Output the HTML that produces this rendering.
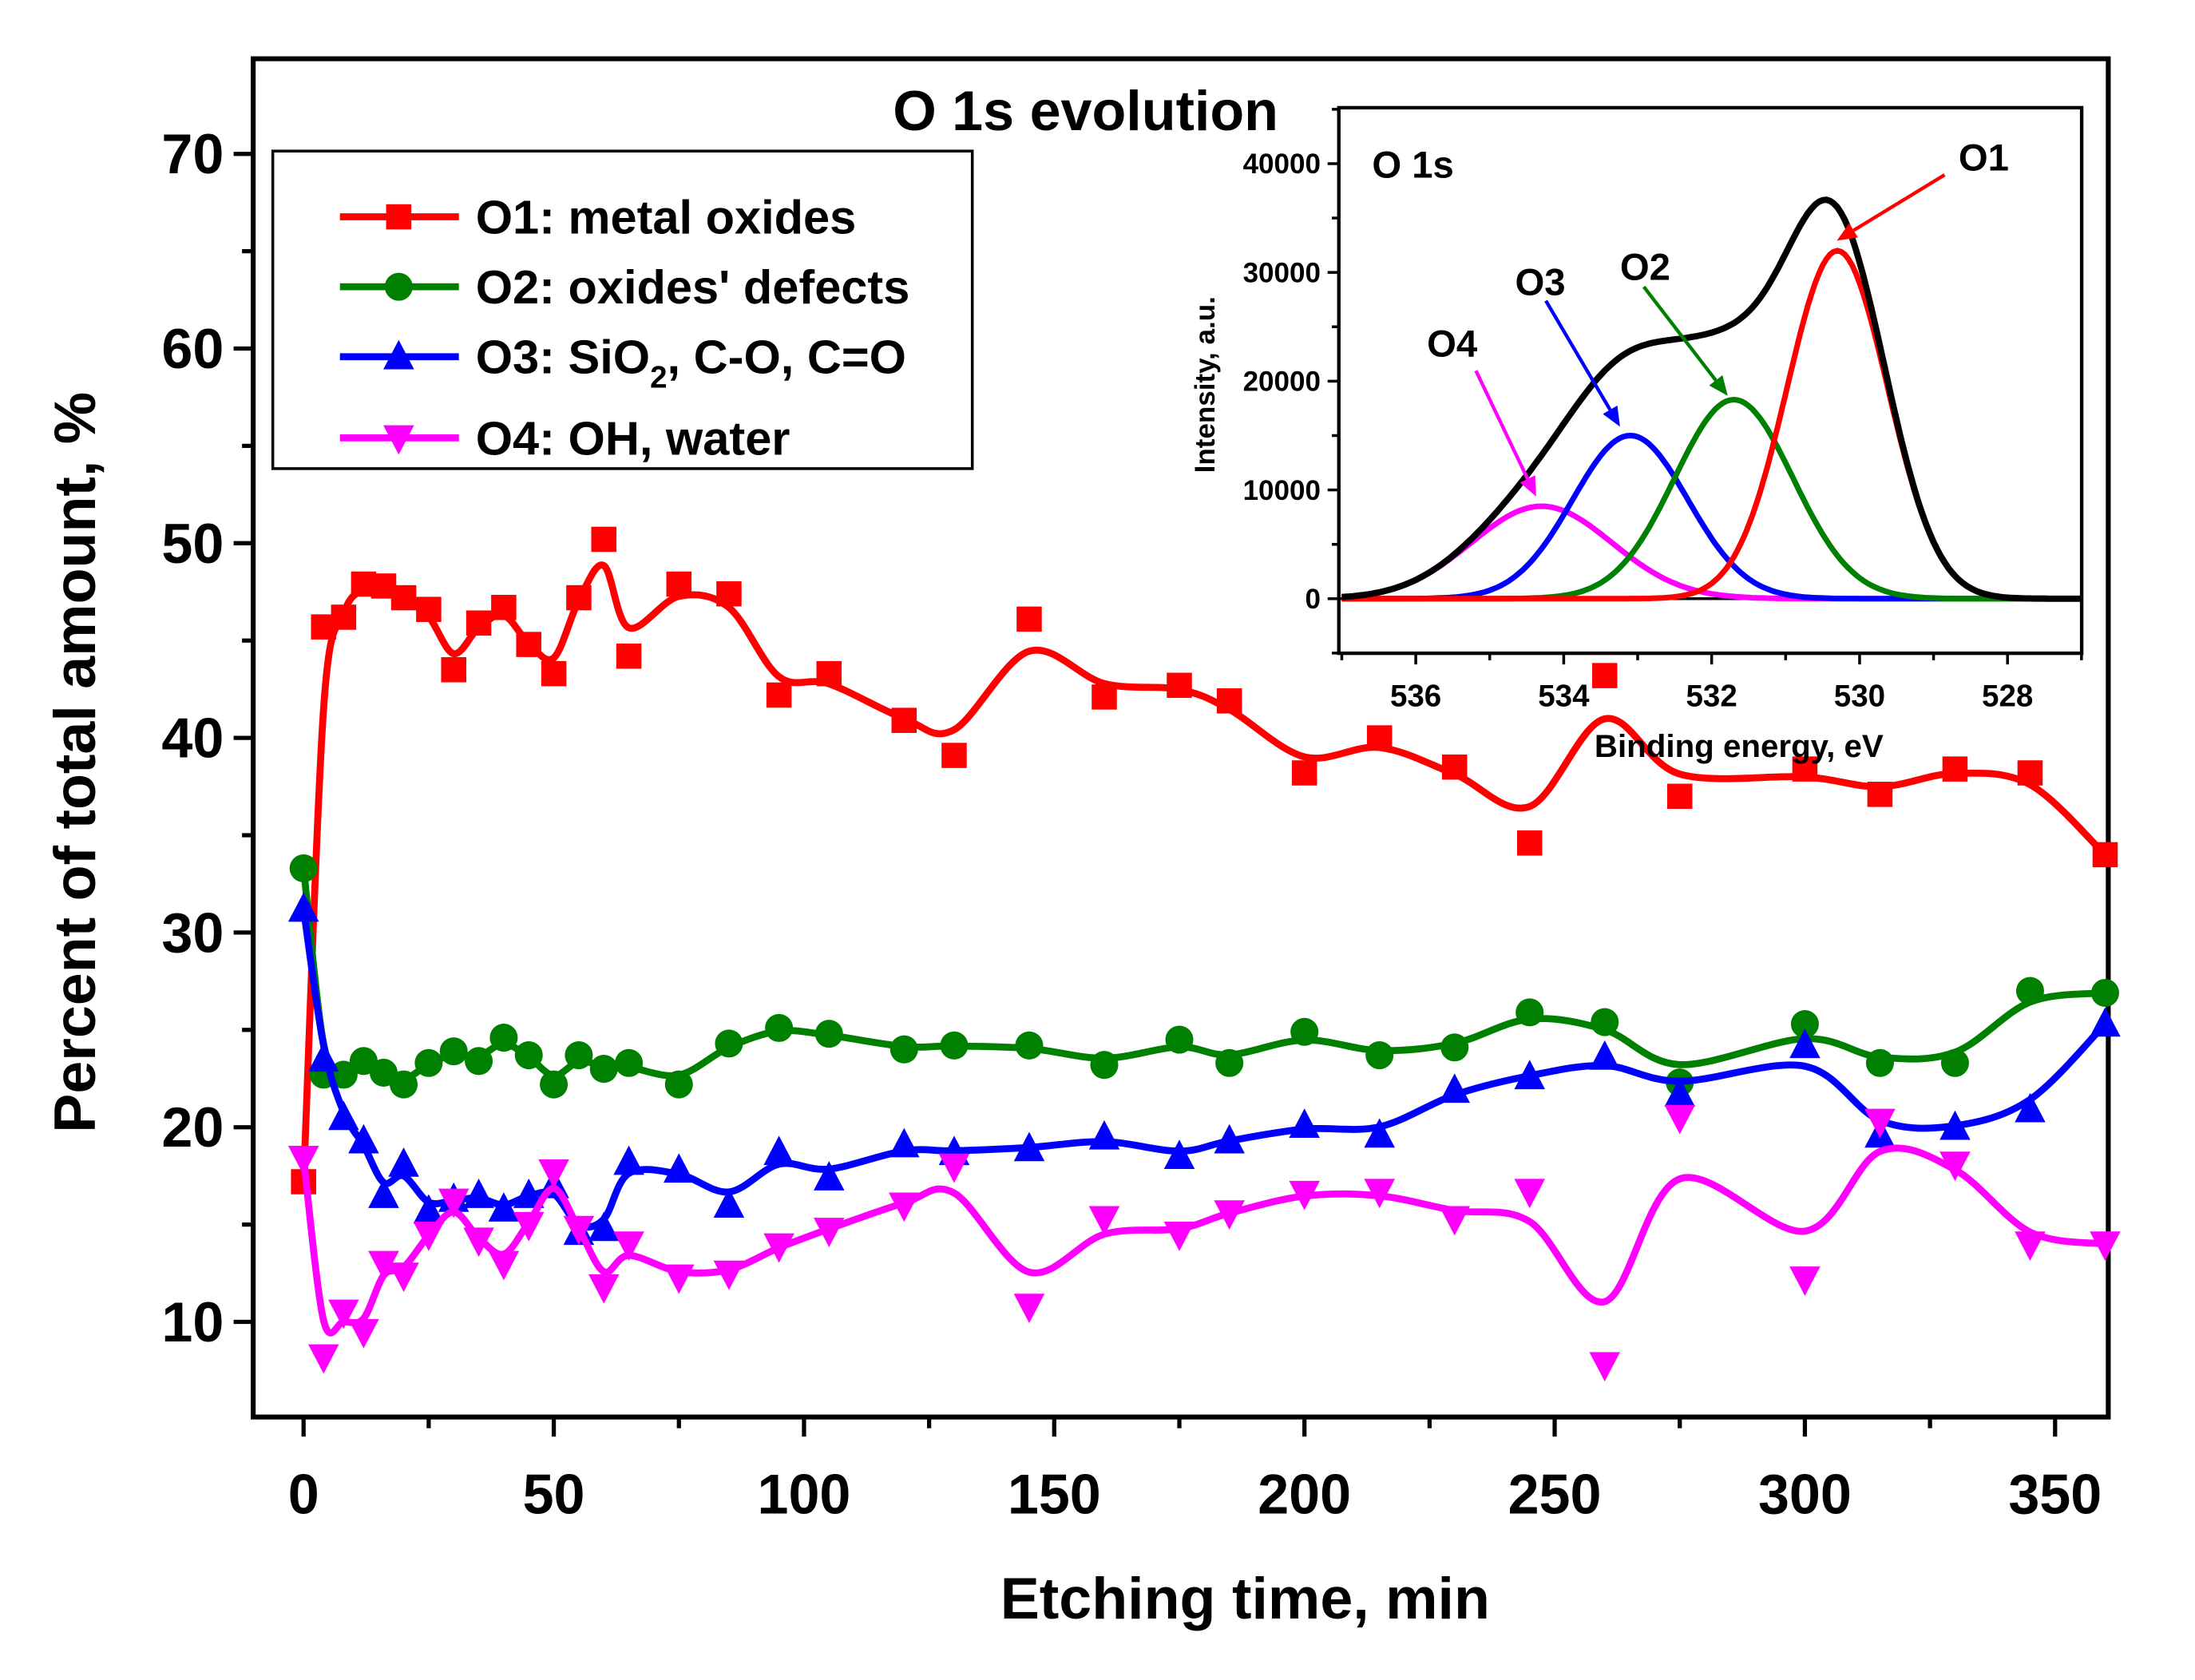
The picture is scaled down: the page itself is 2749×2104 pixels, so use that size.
<!DOCTYPE html>
<html><head><meta charset="utf-8"><style>
html,body{margin:0;padding:0;background:#fff;}
svg{display:block;}
text{font-family:"Liberation Sans Narrow","Liberation Sans",sans-serif;font-weight:bold;}
</style></head><body>
<svg id="chart" width="2749" height="2104" viewBox="0 0 1569 1201" preserveAspectRatio="none" xmlns="http://www.w3.org/2000/svg">
<rect width="1569" height="1201" fill="#fff"/>
<g id="main"></g>
<g id="inset"></g>
</svg>
<script>
const times=[0,4,8,12,16,20,25,30,35,40,45,50,55,60,65,75,85,95,105,120,130,145,160,175,185,200,215,230,245,260,275,300,315,330,345,360];
const o1=[17.2,45.7,46.2,47.9,47.8,47.2,46.6,43.5,45.9,46.7,44.8,43.3,47.2,50.2,44.2,47.9,47.4,42.2,43.3,40.9,39.1,46.1,42.1,42.7,41.9,38.2,40,38.5,34.6,43.2,37,38.4,37.1,38.4,38.2,34];
const o2=[33.3,22.7,22.7,23.4,22.8,22.2,23.3,23.9,23.4,24.6,23.7,22.2,23.7,23,23.3,22.2,24.3,25.1,24.8,24,24.2,24.2,23.2,24.5,23.3,24.9,23.7,24.1,25.9,25.4,22.3,25.3,23.3,23.3,27,26.9];
const o3=[31.2,23.5,20.5,19.3,16.5,18.1,15.7,16.3,16.5,15.8,16.5,17,14.6,14.8,18.2,17.8,16,18.7,17.4,19.1,18.7,18.9,19.5,18.5,19.3,20.1,19.6,21.9,22.6,23.6,21.7,24.2,19.6,20,20.9,25.3];
const o4=[18.4,8.2,10.5,9.5,13,12.4,14.5,16.2,14.2,13,15,17.7,14.8,11.8,14,12.3,12.5,13.9,14.7,16,18,10.8,15.3,14.5,15.6,16.6,16.7,15.3,16.7,7.8,20.5,12.2,20.3,18.1,14,14];
const xTicks=[0,50,100,150,200,250,300,350];
const yTicks=[10,20,30,40,50,60,70];
const seriesNames=["O1: metal oxides","O2: oxides' defects","O3: SiO2, C-O, C=O","O4: OH, water"];
const insetYTicks=[0,10000,20000,30000,40000];
const insetXTicks=[536,534,532,530,528];
const peakCenters=[530.3,531.7,533.1,534.3];
const peakAmps=[32000,18300,15000,8500];
const peakSigmas=[0.68,0.8,0.78,0.95];

const NS="http://www.w3.org/2000/svg";
function mk(tag,attrs,parent,txt){const e=document.createElementNS(NS,tag);for(const k in attrs)e.setAttribute(k,attrs[k]);if(txt!==undefined)e.textContent=txt;parent.appendChild(e);return e;}
const X=t=>217+t*(1469-217)/350;
const Y=v=>945-(v-10)*(945-110)/60;
const main=document.getElementById('main');

let el;
el=mk('rect',{x:181,y:42,width:1326,height:971,fill:'none',stroke:'#000','stroke-width':3.5},main);


for(let t=0;t<=350;t+=25){
  const maj=t%50===0;
  el=mk('line',{x1:X(t),x2:X(t),y1:1013,y2:1013+(maj?14:8),stroke:'#000','stroke-width':3},main);
  
  
}
xTicks.forEach(t=>{
  el=mk('text',{x:X(t),y:1082,'text-anchor':'middle','font-size':40},main,String(t));
  
  
});
for(let v=10;v<=70;v+=5){
  const maj=v%10===0;
  el=mk('line',{x1:181,x2:181-(maj?14:8),y1:Y(v),y2:Y(v),stroke:'#000','stroke-width':3},main);
  
  
}
yTicks.forEach(v=>{
  el=mk('text',{x:160,y:Y(v)+14,'text-anchor':'end','font-size':40},main,String(v));
  
  
});
el=mk('text',{x:890,y:1157,'text-anchor':'middle','font-size':42},main,'Etching time, min');


el=mk('text',{x:0,y:0,'text-anchor':'middle','font-size':42,transform:'translate(68,545) rotate(-90)',style:'font-family:"Liberation Sans",sans-serif'},main,'Percent of total amount, %');


el=mk('text',{x:776,y:93,'text-anchor':'middle','font-size':40,style:'font-family:"Liberation Sans",sans-serif'},main,'O 1s evolution');



function smoothPath(xs,ys){
  const s=ys.map((v,i)=>{if(i===0||i===ys.length-1)return v;return 0.15*ys[i-1]+0.7*v+0.15*ys[i+1];});
  const p=xs.map((t,i)=>[X(t),Y(s[i])]);
  let d='M'+p[0][0]+','+p[0][1];
  for(let i=0;i<p.length-1;i++){
    const p0=p[i-1]||p[i],p1=p[i],p2=p[i+1],p3=p[i+2]||p[i+1];
    const c1=[p1[0]+(p2[0]-p0[0])/6,p1[1]+(p2[1]-p0[1])/6];
    const c2=[p2[0]-(p3[0]-p1[0])/6,p2[1]-(p3[1]-p1[1])/6];
    d+=' C'+c1+' '+c2+' '+p2;
  }
  return d;
}
function marker(kind,x,y,color,parent){
  if(kind==='sq') return mk('rect',{x:x-9,y:y-9,width:18,height:18,fill:color},parent);
  if(kind==='ci') return mk('circle',{cx:x,cy:y,r:10,fill:color},parent);
  if(kind==='up') return mk('polygon',{points:`${x},${y-12} ${x-11},${y+9} ${x+11},${y+9}`,fill:color},parent);
  return mk('polygon',{points:`${x},${y+12} ${x-11},${y-9} ${x+11},${y-9}`,fill:color},parent);
}
const series=[[o1,'#ff0000','sq','o1'],[o2,'#008000','ci','o2'],[o3,'#0000ff','up','o3'],[o4,'#ff00ff','dn','o4']];
series.forEach(([vals,col,mkr,nm])=>{
  const g=mk('g',{},main);
  
  
  el=mk('path',{d:smoothPath(times,vals),fill:'none',stroke:col,'stroke-width':5},g);
  
  
  vals.forEach((v,i)=>{
    el=marker(mkr,X(times[i]),Y(v),col,g);
    
    
  });
});

const lg=mk('g',{},main);


el=mk('rect',{x:195,y:108,width:500,height:227,fill:'#fff',stroke:'#000','stroke-width':2},lg);


const ly=[155,205,255,313];
series.forEach(([vals,col,mkr,nm],i)=>{
  el=mk('line',{x1:243,x2:328,y1:ly[i],y2:ly[i],stroke:col,'stroke-width':5},lg);
  
  
  el=marker(mkr,285,ly[i],col,lg);
  
  
  let t;
  if(i===2){
    t=mk('text',{x:340,y:ly[i]+12,'font-size':34,style:'font-family:"Liberation Sans",sans-serif'},lg);
    mk('tspan',{},t,'O3: SiO');
    mk('tspan',{dy:10,'font-size':22},t,'2');
    mk('tspan',{dy:-10},t,', C-O, C=O');
  } else t=mk('text',{x:340,y:ly[i]+12,'font-size':34,style:'font-family:"Liberation Sans",sans-serif'},lg,seriesNames[i]);
  
  
});

const ins=document.getElementById('inset');


const IX=e=>1012+(536-e)*(1435-1012)/8;
const IY=v=>428-v*(428-117)/40000;
el=mk('rect',{x:957,y:77,width:531,height:390,fill:'none',stroke:'#000','stroke-width':2.5},ins);


for(let e=537;e>=527;e-=1){
  const maj=e%2===0;
  el=mk('line',{x1:IX(e),x2:IX(e),y1:467,y2:467+(maj?8:5),stroke:'#000','stroke-width':2},ins);
  
  
}
insetXTicks.forEach(e=>{
  el=mk('text',{x:IX(e),y:505,'text-anchor':'middle','font-size':22},ins,String(e));
  
  
});
for(let v=-5000;v<=45000;v+=5000){
  const maj=v%10000===0;
  el=mk('line',{x1:957,x2:957-(maj?8:5),y1:IY(v),y2:IY(v),stroke:'#000','stroke-width':2},ins);
  
  
}
insetYTicks.forEach(v=>{
  el=mk('text',{x:944,y:IY(v)+7,'text-anchor':'end','font-size':20},ins,String(v));
  
  
});
el=mk('text',{x:0,y:0,'text-anchor':'middle','font-size':20,transform:'translate(868,275) rotate(-90)',style:'font-family:"Liberation Sans",sans-serif'},ins,'Intensity, a.u.');


el=mk('text',{x:1243,y:541,'text-anchor':'middle','font-size':23,style:'font-family:"Liberation Sans",sans-serif'},ins,'Binding energy, eV');


el=mk('line',{x1:957,x2:1488,y1:IY(0),y2:IY(0),stroke:'#000','stroke-width':2},ins);


const gauss=(e,k)=>peakAmps[k]*Math.exp(-((e-peakCenters[k])**2)/(2*peakSigmas[k]**2));
const pcol=['#ff0000','#008000','#0000ff','#ff00ff'];
const pname=['o1','o2','o3','o4'];
[3,2,1,0].forEach(k=>{
  let d='';
  for(let e=537;e>=527;e-=0.05){d+=(d?' L':'M')+IX(e).toFixed(1)+','+IY(gauss(e,k)).toFixed(1);}
  el=mk('path',{d:d,fill:'none',stroke:pcol[k],'stroke-width':4},ins);
  
  
});
let de='';
for(let e=537;e>=527;e-=0.05){let s=0;for(let k=0;k<4;k++)s+=gauss(e,k);de+=(de?' L':'M')+IX(e).toFixed(1)+','+IY(s).toFixed(1);}
el=mk('path',{d:de,fill:'none',stroke:'#000','stroke-width':4.5},ins);


const arrows=[['o1',1390,125,1313,172,'#ff0000'],['o2',1175,205,1235,283,'#008000'],['o3',1105,215,1158,305,'#0000ff'],['o4',1055,265,1098,355,'#ff00ff']];
arrows.forEach(([n,x1,y1,x2,y2,c])=>{
  const a=Math.atan2(y2-y1,x2-x1),L=14,W=6;
  const bx=x2-L*Math.cos(a),by=y2-L*Math.sin(a);
  el=mk('line',{x1:x1,y1:y1,x2:bx,y2:by,stroke:c,'stroke-width':2.5},ins);
  
  
  el=mk('polygon',{points:`${x2},${y2} ${bx+W*Math.sin(a)},${by-W*Math.cos(a)} ${bx-W*Math.sin(a)},${by+W*Math.cos(a)}`,fill:c},ins);
  
  
});
[['O1',1418,112],['O2',1176,190],['O3',1101,201],['O4',1038,245],['O 1s',1010,117]].forEach(([t,x,y])=>{
  el=mk('text',{x:x,y:y+10,'text-anchor':'middle','font-size':27,style:'font-family:"Liberation Sans",sans-serif'},ins,t);
  
  
});
</script>
</body></html>
